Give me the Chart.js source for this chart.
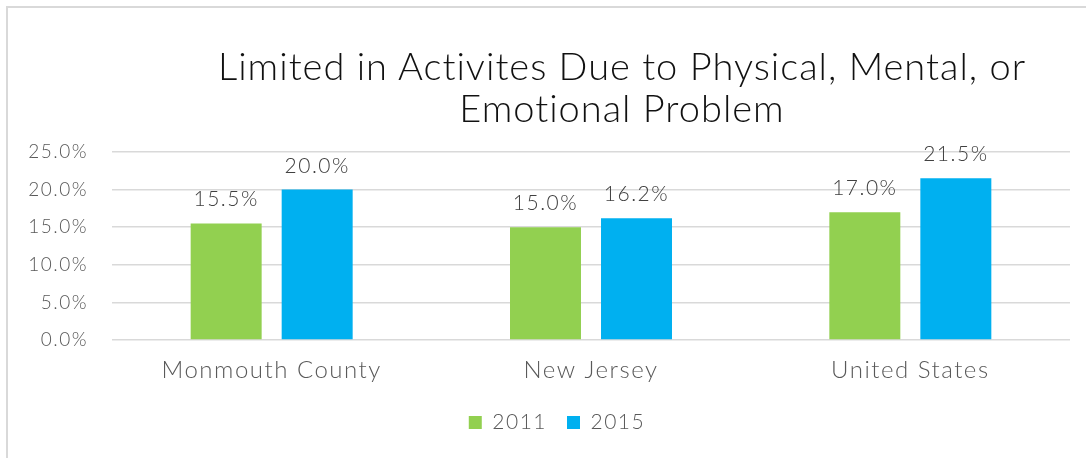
<!DOCTYPE html>
<html>
<head>
<meta charset="utf-8">
<script src="https://cdn.jsdelivr.net/npm/chart.js@4/dist/chart.umd.min.js"></script>
<style>
  html, body { margin: 0; padding: 0; background: #fff; }
  body { width: 1086px; height: 458px; position: relative; overflow: hidden; }
  #frame { position: absolute; left: 6px; top: 6px; width: 1200px; height: 600px;
           border-left: 2px solid #d9d9d9; border-top: 2px solid #d9d9d9; }
  #title { position: absolute; left: 122px; width: 1000px; top: 44px; text-align: center;
           white-space: nowrap;
           font-family: Lato, sans-serif; font-weight: 300; font-size: 38px; line-height: 42px;
           letter-spacing: 1px; color: #111; }
  #wrap { position: absolute; left: 0; top: 0; width: 1086px; height: 458px; }
</style>
</head>
<body>
<div id="frame"></div>
<div id="wrap"><canvas id="chart_limited"></canvas></div>
<div id="title">Limited in Activites Due to Physical, Mental, or<br>Emotional Problem</div>
<script>
var categories = ['Monmouth County', 'New Jersey', 'United States'];
var values2011 = [15.5, 15.0, 17.0];
var values2015 = [20.0, 16.2, 21.5];
var yTicks = [0, 5, 10, 15, 20, 25];

// wider letters, closer to the original face
var spacing = {
    id: 'spacing',
    beforeUpdate: function (chart) { chart.ctx.letterSpacing = '1.5px'; },
    beforeDraw: function (chart) {
        chart.ctx.letterSpacing = '1.5px';
        // legend sits a bit right of centre in the original
        chart.legend.left += 22;
        chart.legend.right += 22;
    }
};

// value labels above the bars
var barLabels = {
    id: 'barLabels',
    afterDatasetsDraw: function (chart) {
        var ctx = chart.ctx;
        ctx.save();
        ctx.font = '300 21px Lato';
        ctx.fillStyle = '#404040';
        ctx.textAlign = 'center';
        ctx.textBaseline = 'alphabetic';
        chart.data.datasets.forEach(function (ds, i) {
            chart.getDatasetMeta(i).data.forEach(function (bar, j) {
                ctx.fillText(ds.data[j].toFixed(1) + '%', bar.x, bar.y - 17);
            });
        });
        ctx.restore();
    }
};

var ctx = document.getElementById('chart_limited');
var barChart = new Chart(ctx, {
    type: 'bar',
    data: {
        labels: categories,
        datasets: [
            { label: '2011', data: values2011, backgroundColor: '#92d050',
              categoryPercentage: 0.57, barPercentage: 0.78 },
            { label: '2015', data: values2015, backgroundColor: '#00b0f0',
              categoryPercentage: 0.57, barPercentage: 0.78 }
        ]
    },
    options: {
        responsive: true,
        maintainAspectRatio: false,
        animation: false,
        layout: { padding: { top: 152, right: 16, bottom: 15, left: 0 } },
        plugins: {
            legend: {
                display: true,
                position: 'bottom',
                labels: {
                    boxWidth: 13, boxHeight: 13, padding: 20,
                    color: '#595959',
                    font: { family: 'Lato', size: 21, weight: '300' }
                }
            },
            tooltip: { enabled: false }
        },
        scales: {
            x: {
                grid: { display: false },
                border: { display: false },
                ticks: { color: '#595959', padding: 8,
                         font: { family: 'Lato', size: 24, weight: '300' } },
                afterFit: function (scale) { scale.height = 52; }
            },
            y: {
                min: 0, max: 25,
                afterBuildTicks: function (scale) {
                    scale.ticks = yTicks.map(function (v) { return { value: v }; });
                },
                grid: { color: '#d9d9d9', lineWidth: 1.5, drawTicks: false },
                border: { display: false },
                ticks: {
                    color: '#595959', padding: 24,
                    font: { family: 'Lato', size: 19, weight: '300' },
                    callback: function (v) { return v.toFixed(1) + '%'; }
                },
                afterFit: function (scale) { scale.width = 112; }
            }
        }
    },
    plugins: [spacing, barLabels]
});
</script>
</body>
</html>
